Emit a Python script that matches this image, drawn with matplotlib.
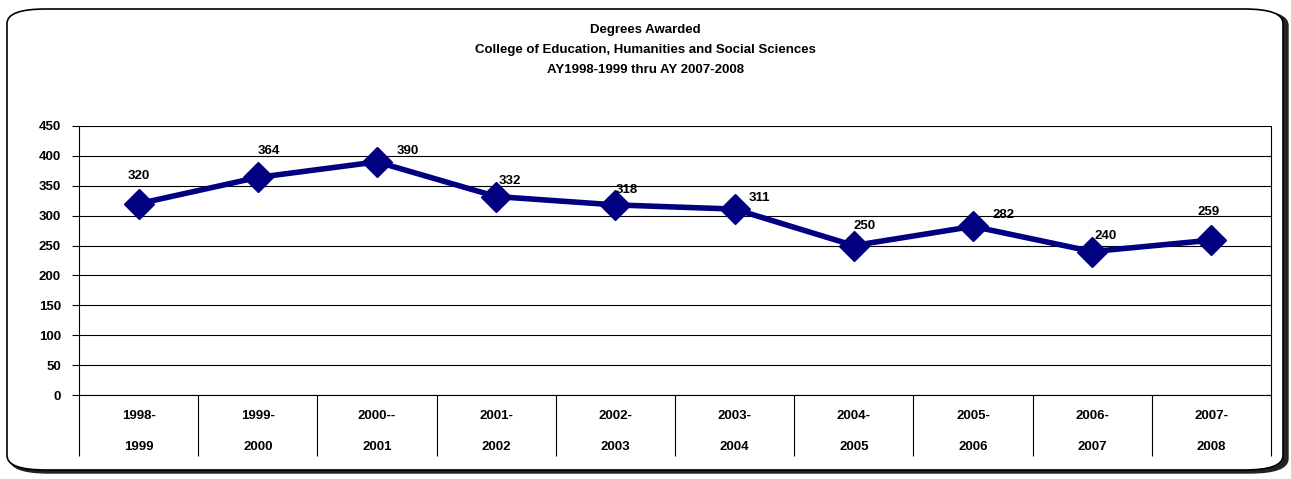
import matplotlib.pyplot as plt
import numpy as np
from matplotlib.patches import FancyBboxPatch

years = ["1998-\n1999", "1999-\n2000", "2000--\n2001", "2001-\n2002", "2002-\n2003",
         "2003-\n2004", "2004-\n2005", "2005-\n2006", "2006-\n2007", "2007-\n2008"]
degrees = [320, 364, 390, 332, 318, 311, 250, 282, 240, 259]
yticks = [0, 50, 100, 150, 200, 250, 300, 350, 400, 450]

# label offsets in points (dx, dy)
offs = [(0, 20), (8, 19), (22, 8), (10, 11), (8, 11), (18, 8), (8, 14), (22, 8), (10, 11), (-2, 20)]

plt.rcParams['font.family'] = ['Liberation Sans', 'DejaVu Sans']
navy = "#000080"

fig = plt.figure(figsize=(12.91, 4.79), dpi=100)

# rounded frame with shadow
shadow = FancyBboxPatch((10 / 1291, 6 / 479), 1278 / 1291, 462 / 479,
                        boxstyle="round,pad=0,rounding_size=0.03", transform=fig.transFigure,
                        facecolor="#222222", edgecolor="#222222", lw=1, zorder=-2)
frame = FancyBboxPatch((7 / 1291, 9 / 479), 1276 / 1291, 461 / 479,
                       boxstyle="round,pad=0,rounding_size=0.03", transform=fig.transFigure,
                       facecolor="white", edgecolor="black", lw=1.2, zorder=-1)
fig.patches.extend([shadow, frame])

ax = fig.add_axes([79 / 1291, 1 - 395 / 479, (1271 - 79) / 1291, (395 - 126) / 479])
ax.set_facecolor("none")

x = np.arange(len(degrees))
ax.plot(x, degrees, color=navy, lw=4, marker="D", markersize=15, zorder=3)
for i, v in enumerate(degrees):
    ax.annotate(str(v), (x[i], v), xytext=offs[i], textcoords="offset points",
                ha="center", va="center", fontsize=9.5, fontweight="bold")

ax.set_xlim(-0.5, len(degrees) - 0.5)
ax.set_ylim(0, 450)
ax.set_yticks(yticks)
ax.set_yticklabels([str(t) for t in yticks], fontsize=9.5, fontweight="bold")
ax.grid(axis="y", color="black", lw=0.8)
ax.set_axisbelow(True)

ax.set_xticks(x)
ax.set_xticklabels(years, fontsize=9.5, fontweight="bold", linespacing=3.1)
ax.tick_params(axis="x", which="major", length=0, pad=11)
ax.set_xticks(np.arange(-0.5, len(degrees)), minor=True)
ax.tick_params(axis="x", which="minor", length=44, width=0.8, color="black")
ax.tick_params(axis="y", length=5, width=0.8, pad=8)

ax.spines["top"].set_visible(False)
for s in ["left", "right", "bottom"]:
    ax.spines[s].set_linewidth(0.8)

fig.text(0.5, 1 - 30 / 479, "Degrees Awarded", ha="center", va="center",
         fontsize=9.5, fontweight="bold")
fig.text(0.5, 1 - 50 / 479, "College of Education, Humanities and Social Sciences",
         ha="center", va="center", fontsize=9.5, fontweight="bold")
fig.text(0.5, 1 - 70 / 479, "AY1998-1999 thru AY 2007-2008", ha="center", va="center",
         fontsize=9.5, fontweight="bold")

fig.savefig("out.png", dpi=100)
